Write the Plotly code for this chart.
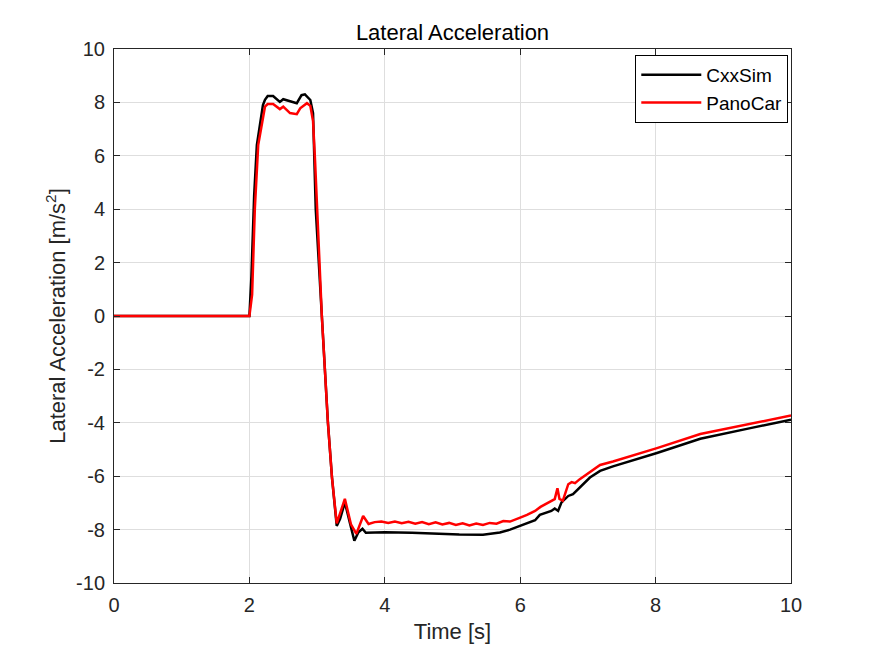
import plotly.graph_objects as go

# CxxSim (black)
t_cxx = [0.0, 2.0, 2.03, 2.07, 2.11, 2.16, 2.20, 2.23, 2.27, 2.35, 2.45, 2.50, 2.57, 2.70, 2.77, 2.82,
         2.90, 2.94, 2.98, 3.07, 3.16, 3.22, 3.29, 3.34, 3.41, 3.48, 3.55, 3.61, 3.67, 3.72, 3.80,
         4.00, 4.40, 4.72, 5.10, 5.45, 5.70, 5.85, 6.00, 6.22, 6.29, 6.46, 6.51, 6.56, 6.61, 6.71,
         6.78, 6.88, 7.03, 7.18, 7.37, 8.02, 8.66, 9.40, 10.0]
v_cxx = [0.0, 0.0, 1.5, 4.5, 6.4, 7.2, 7.9, 8.1, 8.24, 8.24, 8.02, 8.12, 8.06, 7.97, 8.27, 8.30,
         8.09, 7.6, 4.0, 0.0, -4.0, -6.05, -7.86, -7.6, -6.98, -7.7, -8.42, -8.1, -7.97, -8.12, -8.11,
         -8.10, -8.12, -8.16, -8.18, -8.19, -8.11, -8.0, -7.86, -7.65, -7.45, -7.30, -7.21, -7.30, -6.98, -6.74,
         -6.67, -6.42, -6.05, -5.80, -5.63, -5.13, -4.60, -4.20, -3.88]

# PanoCar (red)
t_pano = [0.0, 2.0, 2.04, 2.08, 2.13, 2.18, 2.23, 2.27, 2.35, 2.45, 2.50, 2.60, 2.70, 2.75, 2.85,
          2.90, 2.94, 2.97, 3.07, 3.16, 3.22, 3.29, 3.34, 3.41, 3.50, 3.58, 3.68, 3.76, 3.85,
          3.95, 4.05, 4.15, 4.25, 4.35, 4.45, 4.55, 4.65, 4.75, 4.85, 4.95, 5.05, 5.15, 5.25,
          5.35, 5.45, 5.55, 5.65, 5.75, 5.85, 5.95, 6.00, 6.10, 6.22, 6.30, 6.44, 6.51, 6.55,
          6.58, 6.63, 6.71, 6.76, 6.81, 6.88, 7.03, 7.18, 7.37, 8.02, 8.66, 9.40, 10.0]
v_pano = [0.0, 0.0, 0.8, 4.0, 6.4, 7.2, 7.84, 7.94, 7.94, 7.75, 7.84, 7.60, 7.56, 7.78, 7.97,
          7.87, 7.3, 5.8, 0.0, -4.0, -6.05, -7.77, -7.4, -6.85, -7.8, -8.16, -7.49, -7.79, -7.72,
          -7.70, -7.75, -7.70, -7.76, -7.71, -7.78, -7.72, -7.80, -7.73, -7.81, -7.75, -7.83, -7.76, -7.84,
          -7.77, -7.83, -7.75, -7.78, -7.68, -7.70, -7.58, -7.55, -7.45, -7.30, -7.15, -6.96, -6.86, -6.45,
          -6.85, -6.92, -6.30, -6.22, -6.26, -6.11, -5.86, -5.58, -5.45, -4.95, -4.42, -4.05, -3.73]

x_ticks = [0, 2, 4, 6, 8, 10]
y_ticks = [-10, -8, -6, -4, -2, 0, 2, 4, 6, 8, 10]
y_tick_text = [str(v) for v in y_ticks]

FONT = "Liberation Sans, Arial, sans-serif"
AX = "#262626"

fig = go.Figure()
fig.add_trace(go.Scatter(x=t_cxx, y=v_cxx, mode="lines", name="CxxSim",
                         line=dict(color="black", width=2.5)))
fig.add_trace(go.Scatter(x=t_pano, y=v_pano, mode="lines", name="PanoCar",
                         line=dict(color="#ff0000", width=2.5)))

axis_common = dict(showline=True, linecolor=AX, linewidth=1, mirror="ticks",
                   ticks="inside", ticklen=6, tickcolor=AX, tickwidth=1,
                   showgrid=True, gridcolor="#dedede", gridwidth=1, zeroline=False,
                   tickfont=dict(family=FONT, size=20, color=AX))

fig.update_xaxes(range=[0, 10], tickvals=x_ticks, ticktext=[str(v) for v in x_ticks],
                 title=dict(text="Time [s]", font=dict(family=FONT, size=22, color=AX), standoff=8),
                 ticklabelstandoff=4, **axis_common)
fig.update_yaxes(range=[-10, 10], tickvals=y_ticks, ticktext=y_tick_text,
                 title=dict(text="Lateral Acceleration [m/s<sup>2</sup>]",
                            font=dict(family=FONT, size=22, color=AX), standoff=4),
                 ticklabelstandoff=4, **axis_common)

fig.update_layout(
    width=867, height=648,
    margin=dict(l=106, r=84, t=41, b=73),
    paper_bgcolor="white", plot_bgcolor="white",
    title=dict(text="Lateral Acceleration", x=0.5, xref="paper", xanchor="center",
               y=1 - 24 / 648, yref="container", yanchor="middle",
               font=dict(family=FONT, size=22, color="black")),
    legend=dict(x=0.996, y=0.989, xanchor="right", yanchor="top",
                bgcolor="white", bordercolor="black", borderwidth=1,
                font=dict(family=FONT, size=19, color="black"),
                itemwidth=60, tracegroupgap=0),
    showlegend=True,
)

fig.write_html("out.html")
